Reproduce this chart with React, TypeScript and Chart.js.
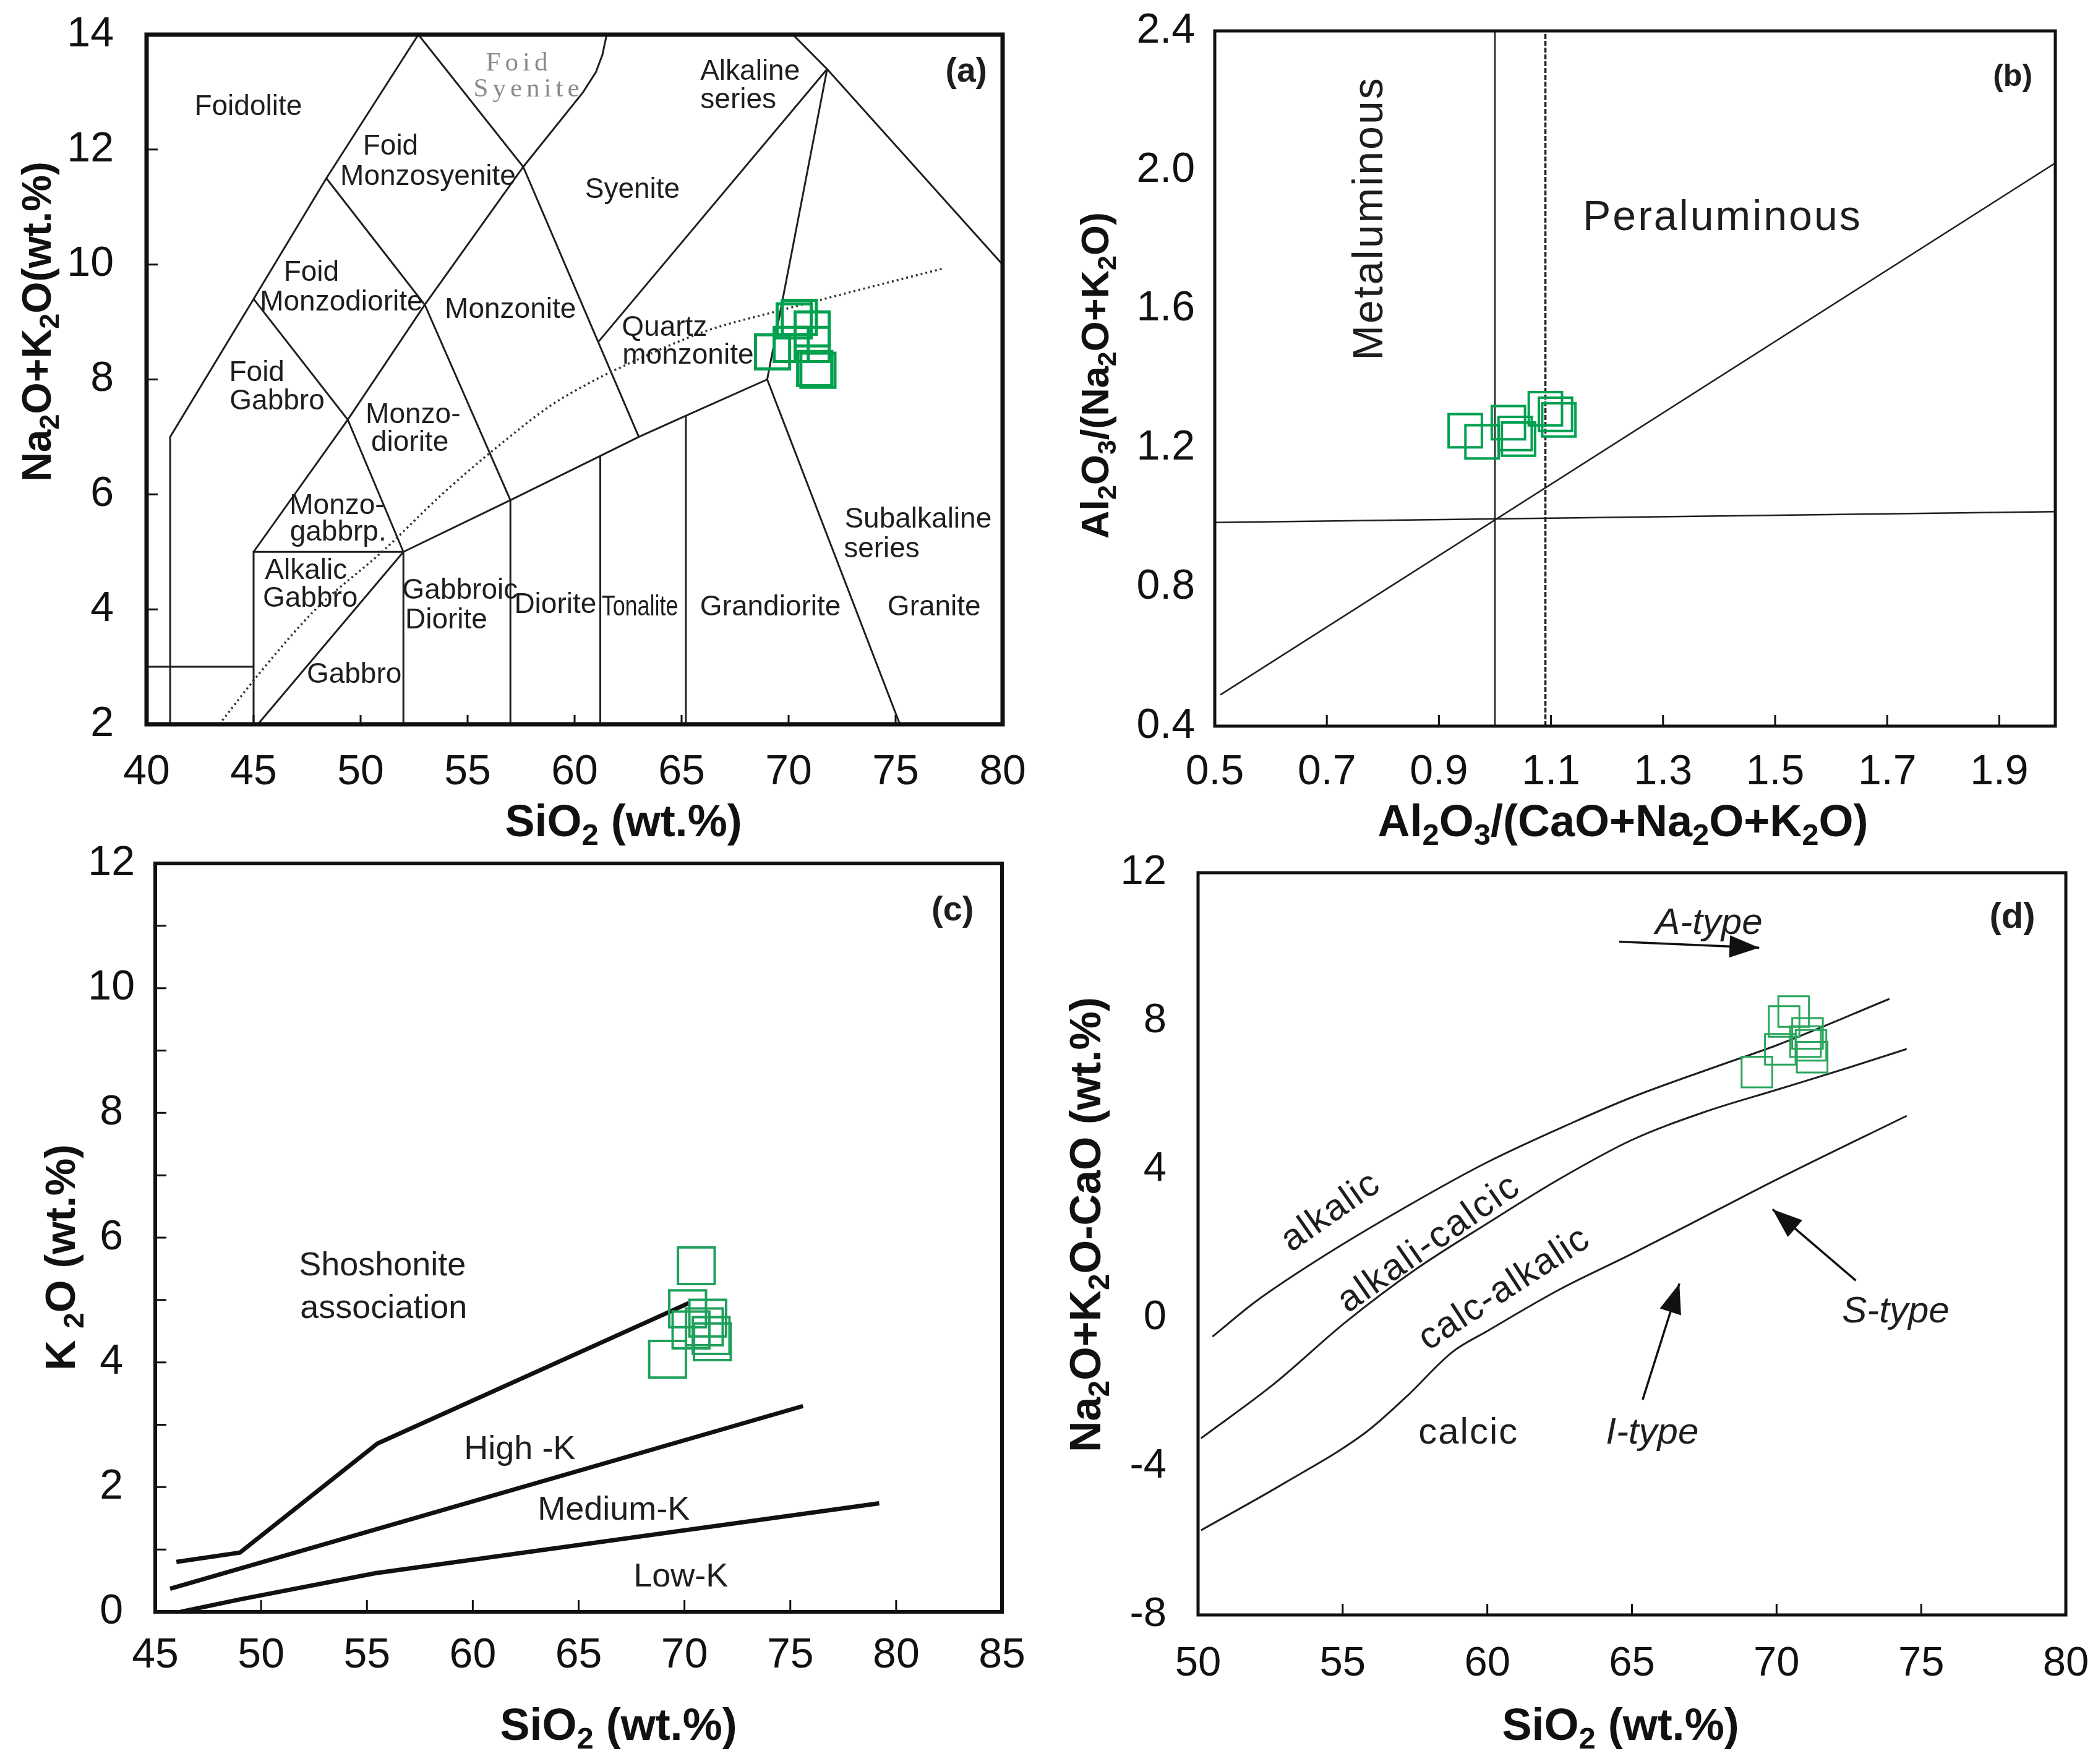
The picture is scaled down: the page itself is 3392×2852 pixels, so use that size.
import React, { useEffect, useRef } from "react";
import { Chart, registerables } from "chart.js";

Chart.register(...registerables);

type P = [number, number];
type Label = {
  t: string; x: number; y: number; size?: number; rot?: number; sx?: number;
  ls?: number; bold?: boolean; italic?: boolean; serif?: boolean; color?: string;
};

const SANS = "'Liberation Sans', Arial, Helvetica, sans-serif";
const SERIF = "'Liberation Serif', 'Times New Roman', serif";

// ================= Panel (a) TAS =================
const A_X_TICKS = [40, 45, 50, 55, 60, 65, 70, 75, 80];
const A_Y_TICKS = [2, 4, 6, 8, 10, 12, 14];
const A_SIO2 = [69.25, 70.26, 70.5, 71.1, 70.12, 71.22, 71.37, 71.1];
const A_ALKALI = [8.48, 9.02, 9.08, 8.88, 8.61, 8.19, 8.16, 8.61];

const A_FOIDOLITE: P[] = [[41.1, 2], [41.1, 7], [45, 9.4], [48.4, 11.5], [52.7, 14]];
const A_SYENITE_MONZONITE: P[] = [[52.7, 14], [57.6, 11.7], [63, 7]];
const A_MONZODIORITE: P[] = [[48.4, 11.5], [53, 9.3], [57, 5.9]];
const A_FOID_GABBRO: P[] = [[45, 9.4], [49.4, 7.3], [52, 5]];
const A_FOID_SYENITE: P[] = [[61.5, 14], [61.3, 13.65], [61.0, 13.35], [60.4, 13.0], [57.6, 11.7], [53, 9.3], [49.4, 7.3], [45, 5]];
const A_GABBRO_BOX: P[] = [[45, 2], [45, 5], [52, 5], [52, 2]];
const A_SUBALK_BASE: P[] = [[52, 5], [57, 5.9], [61.2, 6.67], [63, 7], [65.2, 7.37], [69, 8]];
const A_GABBRO_DIAG: P[] = [[45.2, 2], [52, 5]];
const A_DIORITE: P[] = [[57, 2], [57, 5.9]];
const A_TONALITE_L: P[] = [[61.2, 2], [61.2, 6.67]];
const A_TONALITE_R: P[] = [[65.2, 2], [65.2, 7.37]];
const A_GRANITE: P[] = [[69, 8], [75.2, 2]];
const A_QMZ_SYENITE: P[] = [[61.1, 8.65], [71.8, 13.4]];
const A_QMZ_GRANITE: P[] = [[69, 8], [71.8, 13.4]];
const A_TOP_RIGHT: P[] = [[70.2, 14], [71.8, 13.4], [80, 10]];
const A_LEFT_BAR: P[] = [[40, 3], [45, 3]];
const A_IRVINE: P[] = [[43.4, 2], [45.3, 2.9], [47.9, 4.0], [51, 5.0], [53.8, 6.0], [56.3, 6.8], [58.9, 7.55], [61, 8.0], [62.2, 8.22], [66.2, 8.85], [69.6, 9.2], [77.2, 9.93]];

const A_LABELS: Label[] = [
  { t: "Foidolite", x: 44.75, y: 12.74 },
  { t: "Foid", x: 57.4, y: 13.5, serif: true, size: 43, ls: 7, color: "#8a8a8a" },
  { t: "Syenite", x: 57.85, y: 13.05, serif: true, size: 43, ls: 7, color: "#8a8a8a" },
  { t: "Alkaline", x: 68.2, y: 13.35 },
  { t: "series", x: 67.65, y: 12.86 },
  { t: "(a)", x: 78.3, y: 13.35, bold: true, size: 55 },
  { t: "Foid", x: 51.4, y: 12.05 },
  { t: "Monzosyenite", x: 53.15, y: 11.52 },
  { t: "Syenite", x: 62.7, y: 11.29 },
  { t: "Foid", x: 47.7, y: 9.85 },
  { t: "Monzodiorite", x: 49.1, y: 9.34 },
  { t: "Monzonite", x: 57.0, y: 9.21 },
  { t: "Quartz", x: 64.2, y: 8.9 },
  { t: "monzonite", x: 65.3, y: 8.41 },
  { t: "Foid", x: 45.15, y: 8.11 },
  { t: "Gabbro", x: 46.1, y: 7.61 },
  { t: "Monzo-", x: 52.45, y: 7.38 },
  { t: "diorite", x: 52.3, y: 6.89 },
  { t: "Monzo-", x: 48.9, y: 5.8 },
  { t: "gabbrp.", x: 48.95, y: 5.33 },
  { t: "Subalkaline", x: 76.05, y: 5.56 },
  { t: "series", x: 74.35, y: 5.04 },
  { t: "Alkalic", x: 47.45, y: 4.67 },
  { t: "Gabbro", x: 47.65, y: 4.18 },
  { t: "Gabbroic", x: 54.65, y: 4.32 },
  { t: "Diorite", x: 54.0, y: 3.81 },
  { t: "Diorite", x: 59.1, y: 4.07 },
  { t: "Tonalite", x: 63.05, y: 4.03, sx: 0.78 },
  { t: "Grandiorite", x: 69.15, y: 4.03 },
  { t: "Granite", x: 76.8, y: 4.03 },
  { t: "Gabbro", x: 49.7, y: 2.86 },
];

// ================= Panel (b) A/CNK - A/NK =================
const B_X_TICKS = [0.5, 0.7, 0.9, 1.1, 1.3, 1.5, 1.7, 1.9];
const B_Y_TICKS = [0.4, 0.8, 1.2, 1.6, 2.0, 2.4];
const B_ACNK = [0.947, 0.977, 1.024, 1.036, 1.042, 1.09, 1.108, 1.114];
const B_ANK = [1.25, 1.218, 1.273, 1.242, 1.226, 1.313, 1.297, 1.281];
const B_ACNK_ONE: P[] = [[1.0, 0.4], [1.0, 2.4]];
const B_ACNK_DIV: P[] = [[1.09, 0.4], [1.09, 2.4]];
const B_ANK_ONE: P[] = [[0.5, 0.986], [2.0, 1.017]];
const B_DIAGONAL: P[] = [[0.51, 0.49], [2.0, 2.02]];
const B_LABELS: Label[] = [
  { t: "Metaluminous", x: 0.778, y: 1.861, rot: -90, size: 68, ls: 3 },
  { t: "Peraluminous", x: 1.406, y: 1.861, size: 68, ls: 3 },
  { t: "(b)", x: 1.924, y: 2.267, bold: true, size: 50 },
];

// ================= Panel (c) SiO2 - K2O =================
const C_X_TICKS = [45, 50, 55, 60, 65, 70, 75, 80, 85];
const C_Y_TICKS = [0, 2, 4, 6, 8, 10, 12];
const C_SIO2 = [70.56, 70.15, 71.1, 71.26, 71.32, 70.31, 69.2, 70.94];
const C_K2O = [5.55, 4.86, 4.71, 4.43, 4.33, 4.52, 4.05, 4.57];
const C_SHOSHONITE: P[] = [[46, 0.8], [49, 0.95], [55.5, 2.7], [70.2, 4.95]];
const C_HIGH_K: P[] = [[45.7, 0.37], [55.5, 1.33], [75.6, 3.3]];
const C_LOW_K: P[] = [[46.2, 0], [49, 0.2], [55.4, 0.62], [79.2, 1.74]];
const C_LABELS: Label[] = [
  { t: "Shoshonite", x: 55.73, y: 5.54 },
  { t: "association", x: 55.79, y: 4.86 },
  { t: "High -K", x: 62.22, y: 2.6 },
  { t: "Medium-K", x: 66.66, y: 1.63 },
  { t: "Low-K", x: 69.83, y: 0.55 },
  { t: "(c)", x: 82.67, y: 11.24, bold: true, size: 56 },
];

// ================= Panel (d) SiO2 - MALI =================
const D_X_TICKS = [50, 55, 60, 65, 70, 75, 80];
const D_Y_TICKS = [-8, -4, 0, 4, 8, 12];
const D_SIO2 = [70.59, 70.26, 71.07, 71.19, 71.23, 70.13, 69.32, 71.0];
const D_MALI = [8.26, 7.99, 7.67, 7.35, 7.03, 7.24, 6.63, 7.45];
const D_ALKALIC: P[] = [[50.5, -0.5], [52, 0.45], [54.2, 1.6], [57.2, 3.0], [60, 4.2], [62.9, 5.25], [65, 5.95], [68, 6.8], [70, 7.35], [73.9, 8.6]];
const D_ALKALI_CALCIC: P[] = [[50.1, -3.24], [52.6, -1.79], [55.1, -0.11], [57.5, 1.3], [60, 2.55], [62.5, 3.75], [65, 4.8], [67.5, 5.55], [70, 6.15], [72.5, 6.75], [74.5, 7.25]];
const D_CALC_ALKALIC: P[] = [[50.1, -5.72], [53.0, -4.44], [55.8, -3.08], [57.2, -2.12], [58.8, -0.91], [60, -0.35], [62.5, 0.77], [65, 1.73], [68, 2.93], [70, 3.73], [74.5, 5.45]];
const D_ARROW_A: P[] = [[64.56, 10.14], [69.4, 9.98]];
const D_ARROW_S: P[] = [[72.74, 1.01], [69.86, 2.93]];
const D_ARROW_I: P[] = [[65.37, -2.2], [66.64, 0.93]];
const D_LABELS: Label[] = [
  { t: "A-type", x: 67.66, y: 10.62, italic: true },
  { t: "S-type", x: 74.12, y: 0.16, italic: true },
  { t: "I-type", x: 65.7, y: -3.11, italic: true },
  { t: "calcic", x: 59.35, y: -3.11, ls: 2 },
  { t: "alkalic", x: 54.6, y: 2.85, rot: -35, ls: 2 },
  { t: "alkali-calcic", x: 58.0, y: 2.0, rot: -35, ls: 3 },
  { t: "calc-alkalic", x: 60.6, y: 0.78, rot: -33, ls: 2 },
  { t: "(d)", x: 78.15, y: 10.78, bold: true, size: 58 },
];

// ================= helpers =================
function toXY(pts: P[]) {
  return pts.map(([x, y]) => ({ x, y }));
}
function zipXY(xs: number[], ys: number[]) {
  return xs.map((x, i) => ({ x, y: ys[i] }));
}

function drawRich(ctx: CanvasRenderingContext2D, text: string, x: number, y: number, size: number, rot: number) {
  const segs: { s: string; sub: boolean }[] = [];
  for (let i = 0; i < text.length; i++) {
    const c = text[i];
    if (c === "_" && i + 1 < text.length) {
      segs.push({ s: text[i + 1], sub: true });
      i++;
    } else {
      const last = segs[segs.length - 1];
      if (last && !last.sub) last.s += c;
      else segs.push({ s: c, sub: false });
    }
  }
  const fMain = `bold ${size}px ${SANS}`;
  const fSub = `bold ${Math.round(size * 0.68)}px ${SANS}`;
  ctx.save();
  ctx.translate(x, y);
  ctx.rotate((rot * Math.PI) / 180);
  let total = 0;
  const widths = segs.map((sg) => {
    ctx.font = sg.sub ? fSub : fMain;
    const w = ctx.measureText(sg.s).width;
    total += w;
    return w;
  });
  let cx = -total / 2;
  ctx.textAlign = "left";
  ctx.textBaseline = "alphabetic";
  ctx.fillStyle = "#111";
  const base = size * 0.36;
  segs.forEach((sg, i) => {
    ctx.font = sg.sub ? fSub : fMain;
    ctx.fillText(sg.s, cx, base + (sg.sub ? size * 0.2 : 0));
    cx += widths[i];
  });
  ctx.restore();
}

function drawLabel(ctx: CanvasRenderingContext2D, xs: any, ys: any, L: Label, defSize: number) {
  const size = L.size ?? defSize;
  ctx.save();
  ctx.translate(xs.getPixelForValue(L.x), ys.getPixelForValue(L.y));
  if (L.rot) ctx.rotate((L.rot * Math.PI) / 180);
  if (L.sx) ctx.scale(L.sx, 1);
  ctx.font = `${L.italic ? "italic " : ""}${L.bold ? "bold " : ""}${size}px ${L.serif ? SERIF : SANS}`;
  (ctx as any).letterSpacing = (L.ls ?? 0) + "px";
  ctx.textAlign = "center";
  ctx.textBaseline = "middle";
  ctx.fillStyle = L.color ?? "#1e1e1e";
  ctx.fillText(L.t, 0, 0);
  ctx.restore();
}

type Spec = {
  id: string;
  xMin: number; xMax: number; yMin: number; yMax: number;
  xTicks: number[]; yTicks: number[]; fmt: (v: number) => string;
  tickSize: number; xPad: number; yPad: number; yAlign: "near" | "center";
  padTop: number; padRight: number; yW: number; xH: number;
  innerX: number[]; innerY: number[]; tickLenX: number; tickLenY: number; tickW: number;
  frameW: number;
  datasets: any[];
  arrows: P[][];
  labels: Label[]; labelSize: number;
  xTitle: { t: string; x: number; y: number; size: number };
  yTitle: { t: string; x: number; y: number; size: number };
};

function lineDs(pts: P[], color: string, width: number, extra: any = {}) {
  return {
    data: toXY(pts), showLine: true, pointRadius: 0, pointHoverRadius: 0,
    borderColor: color, borderWidth: width, backgroundColor: color, fill: false, tension: 0, ...extra,
  };
}
function pointDs(xs: number[], ys: number[], color: string, r: number, w: number) {
  return {
    data: zipXY(xs, ys), showLine: false, pointStyle: "rect", pointRadius: r, pointHoverRadius: r,
    pointBorderWidth: w, borderColor: color, pointBorderColor: color,
    pointBackgroundColor: "rgba(0,0,0,0)", backgroundColor: "rgba(0,0,0,0)",
  };
}

function makeDeco(spec: Spec) {
  return {
    id: "deco_" + spec.id,
    afterDatasetsDraw(chart: any) {
      const ctx: CanvasRenderingContext2D = chart.ctx;
      const { left, right, top, bottom } = chart.chartArea;
      const xs = chart.scales.x;
      const ys = chart.scales.y;
      ctx.save();
      ctx.fillStyle = "#111";
      for (const ar of spec.arrows) {
        const [x0, y0] = ar[ar.length - 2];
        const [x1, y1] = ar[ar.length - 1];
        const px0 = xs.getPixelForValue(x0), py0 = ys.getPixelForValue(y0);
        const px1 = xs.getPixelForValue(x1), py1 = ys.getPixelForValue(y1);
        const ang = Math.atan2(py1 - py0, px1 - px0);
        const L = 48, W = 18;
        ctx.beginPath();
        ctx.moveTo(px1, py1);
        ctx.lineTo(px1 - L * Math.cos(ang) + W * Math.sin(ang), py1 - L * Math.sin(ang) - W * Math.cos(ang));
        ctx.lineTo(px1 - L * Math.cos(ang) - W * Math.sin(ang), py1 - L * Math.sin(ang) + W * Math.cos(ang));
        ctx.closePath();
        ctx.fill();
      }
      ctx.strokeStyle = "#111";
      ctx.lineWidth = spec.tickW;
      ctx.beginPath();
      for (const v of spec.innerX) {
        const px = xs.getPixelForValue(v);
        ctx.moveTo(px, bottom);
        ctx.lineTo(px, bottom - spec.tickLenX);
      }
      for (const v of spec.innerY) {
        const py = ys.getPixelForValue(v);
        ctx.moveTo(left, py);
        ctx.lineTo(left + spec.tickLenY, py);
      }
      ctx.stroke();
      ctx.lineWidth = spec.frameW;
      ctx.strokeRect(left, top, right - left, bottom - top);
      for (const L of spec.labels) drawLabel(ctx, xs, ys, L, spec.labelSize);
      drawRich(ctx, spec.xTitle.t, spec.xTitle.x, spec.xTitle.y, spec.xTitle.size, 0);
      drawRich(ctx, spec.yTitle.t, spec.yTitle.x, spec.yTitle.y, spec.yTitle.size, -90);
      ctx.restore();
    },
  };
}

function zeroPad(s: any) {
  s.paddingTop = 0;
  s.paddingBottom = 0;
  s.paddingLeft = 0;
  s.paddingRight = 0;
}

function makeConfig(spec: Spec): any {
  const tickFont = { family: SANS, size: spec.tickSize };
  return {
    type: "scatter",
    data: { datasets: spec.datasets },
    options: {
      responsive: false,
      maintainAspectRatio: false,
      animation: false,
      events: [],
      layout: { padding: { left: 0, top: spec.padTop, right: spec.padRight, bottom: 0 } },
      plugins: { legend: { display: false }, tooltip: { enabled: false } },
      scales: {
        x: {
          type: "linear", min: spec.xMin, max: spec.xMax,
          grid: { display: false, drawTicks: false },
          border: { display: false },
          ticks: {
            font: tickFont, color: "#111", padding: spec.xPad, maxRotation: 0, minRotation: 0, autoSkip: false,
            callback: (v: number) => spec.fmt(v),
          },
          afterBuildTicks: (s: any) => { s.ticks = spec.xTicks.map((v) => ({ value: v })); },
          afterFit: (s: any) => { s.height = spec.xH; zeroPad(s); },
        },
        y: {
          type: "linear", min: spec.yMin, max: spec.yMax,
          grid: { display: false, drawTicks: false },
          border: { display: false },
          ticks: {
            font: tickFont, color: "#111", padding: spec.yPad, autoSkip: false, crossAlign: spec.yAlign,
            callback: (v: number) => spec.fmt(v),
          },
          afterBuildTicks: (s: any) => { s.ticks = spec.yTicks.map((v) => ({ value: v })); },
          afterFit: (s: any) => { s.width = spec.yW; zeroPad(s); },
        },
      },
    },
    plugins: [makeDeco(spec)],
  };
}

const LINE = "#1f1f1f";

const SPEC_A: Spec = {
  id: "a", xMin: 40, xMax: 80, yMin: 2, yMax: 14,
  xTicks: A_X_TICKS, yTicks: A_Y_TICKS, fmt: (v) => String(v),
  tickSize: 68, xPad: 37, yPad: 53, yAlign: "near",
  padTop: 56, padRight: 75, yW: 237, xH: 229,
  innerX: [45, 50, 55, 60, 65, 70, 75], innerY: [4, 6, 8, 10, 12], tickLenX: 15, tickLenY: 18, tickW: 3,
  frameW: 7,
  datasets: [
    pointDs(A_SIO2, A_ALKALI, "#00a04e", 39, 5),
    lineDs(A_IRVINE, "#333", 3.5, { borderDash: [3, 5], tension: 0.3, cubicInterpolationMode: "monotone" }),
    ...[A_FOIDOLITE, A_SYENITE_MONZONITE, A_MONZODIORITE, A_FOID_GABBRO, A_FOID_SYENITE, A_GABBRO_BOX,
      A_SUBALK_BASE, A_GABBRO_DIAG, A_DIORITE, A_TONALITE_L, A_TONALITE_R, A_GRANITE, A_QMZ_SYENITE,
      A_QMZ_GRANITE, A_TOP_RIGHT, A_LEFT_BAR].map((p) => lineDs(p, LINE, 3)),
  ],
  arrows: [], labels: A_LABELS, labelSize: 46,
  xTitle: { t: "SiO_2 (wt.%)", x: 1008, y: 1326, size: 72 },
  yTitle: { t: "Na_2O+K_2O(wt.%)", x: 58, y: 520, size: 66 },
};

const SPEC_B: Spec = {
  id: "b", xMin: 0.5, xMax: 2.0, yMin: 0.4, yMax: 2.4,
  xTicks: B_X_TICKS, yTicks: B_Y_TICKS, fmt: (v) => v.toFixed(1),
  tickSize: 68, xPad: 34, yPad: 32, yAlign: "near",
  padTop: 50, padRight: 69, yW: 268, xH: 226,
  innerX: [0.7, 0.9, 1.1, 1.3, 1.5, 1.7, 1.9], innerY: [], tickLenX: 18, tickLenY: 0, tickW: 3,
  frameW: 5,
  datasets: [
    pointDs(B_ACNK, B_ANK, "#00a050", 38, 4),
    lineDs(B_ACNK_ONE, LINE, 2.5),
    lineDs(B_ACNK_DIV, LINE, 3.5, { borderDash: [8, 3] }),
    lineDs(B_ANK_ONE, LINE, 2.5),
    lineDs(B_DIAGONAL, LINE, 2.5),
  ],
  arrows: [], labels: B_LABELS, labelSize: 68,
  xTitle: { t: "Al_2O_3/(CaO+Na_2O+K_2O)", x: 928, y: 1326, size: 72 },
  yTitle: { t: "Al_2O_3/(Na_2O+K_2O)", x: 73, y: 607, size: 63 },
};

const SPEC_C: Spec = {
  id: "c", xMin: 45, xMax: 85, yMin: 0, yMax: 12,
  xTicks: C_X_TICKS, yTicks: C_Y_TICKS, fmt: (v) => String(v),
  tickSize: 68, xPad: 30, yPad: 33, yAlign: "center",
  padTop: 56, padRight: 76, yW: 251, xH: 246,
  innerX: [50, 55, 60, 65, 70, 75, 80], innerY: [1, 2, 3, 4, 5, 6, 7, 8, 9, 10, 11], tickLenX: 19, tickLenY: 18, tickW: 3,
  frameW: 6,
  datasets: [
    pointDs(C_SIO2, C_K2O, "#1fa05c", 42, 4),
    lineDs(C_SHOSHONITE, "#111", 7),
    lineDs(C_HIGH_K, "#111", 7),
    lineDs(C_LOW_K, "#111", 7),
  ],
  arrows: [], labels: C_LABELS, labelSize: 54,
  xTitle: { t: "SiO_2 (wt.%)", x: 1000, y: 1447, size: 72 },
  yTitle: { t: "K _2O (wt.%)", x: 97, y: 693, size: 68 },
};

const SPEC_D: Spec = {
  id: "d", xMin: 50, xMax: 80, yMin: -8, yMax: 12,
  xTicks: D_X_TICKS, yTicks: D_Y_TICKS, fmt: (v) => String(v),
  tickSize: 67, xPad: 39, yPad: 51, yAlign: "near",
  padTop: 71, padRight: 52, yW: 241, xH: 241,
  innerX: [55, 60, 65, 70, 75], innerY: [], tickLenX: 18, tickLenY: 0, tickW: 3,
  frameW: 5,
  datasets: [
    pointDs(D_SIO2, D_MALI, "#2aa55c", 35, 3),
    ...[D_ALKALIC, D_ALKALI_CALCIC, D_CALC_ALKALIC].map((p) =>
      lineDs(p, LINE, 3, { tension: 0.4, cubicInterpolationMode: "monotone" })),
    ...[D_ARROW_A, D_ARROW_S, D_ARROW_I].map((p) => lineDs(p, "#111", 3.5)),
  ],
  arrows: [D_ARROW_A, D_ARROW_S, D_ARROW_I], labels: D_LABELS, labelSize: 60,
  xTitle: { t: "SiO_2 (wt.%)", x: 924, y: 1447, size: 72 },
  yTitle: { t: "Na_2O+K_2O-CaO (wt.%)", x: 58, y: 640, size: 70 },
};

function Panel({ spec, left, top, width, height }: { spec: Spec; left: number; top: number; width: number; height: number }) {
  const ref = useRef<HTMLCanvasElement>(null);
  useEffect(() => {
    const chart = new Chart(ref.current as HTMLCanvasElement, makeConfig(spec));
    return () => chart.destroy();
  }, [spec]);
  return (
    <canvas
      ref={ref}
      width={width}
      height={height}
      style={{ position: "absolute", left, top, width, height }}
    />
  );
}

export default function App() {
  return (
    <div style={{ position: "absolute", left: 0, top: 0, width: 3392, height: 2852, background: "#ffffff", overflow: "hidden" }}>
      <Panel spec={SPEC_A} left={0} top={0} width={1696} height={1400} />
      <Panel spec={SPEC_B} left={1696} top={0} width={1696} height={1400} />
      <Panel spec={SPEC_C} left={0} top={1340} width={1696} height={1512} />
      <Panel spec={SPEC_D} left={1696} top={1340} width={1696} height={1512} />
    </div>
  );
}
